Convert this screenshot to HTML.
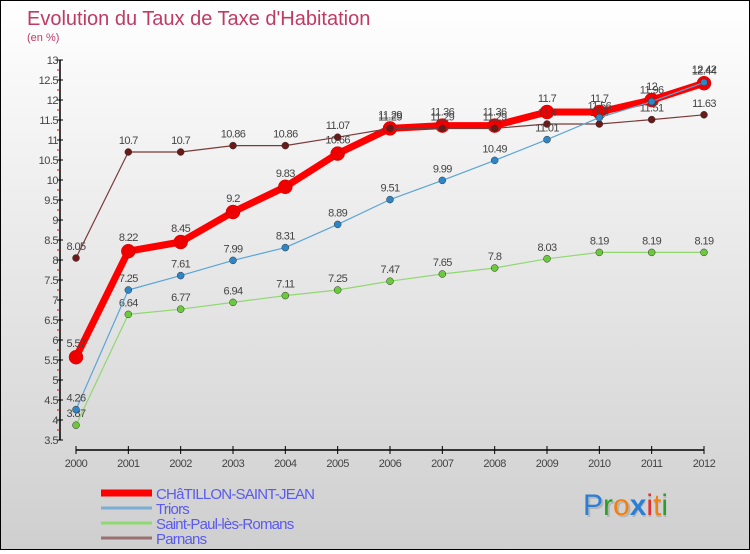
<!DOCTYPE html>
<html><head><meta charset="utf-8">
<style>
html,body{margin:0;padding:0;}
body{width:750px;height:550px;overflow:hidden;}
#wrap{position:relative;width:748px;height:548px;border:1px solid #000;background:linear-gradient(#ffffff,#e2e2e2 60%,#cfcfcf);font-family:"Liberation Sans",sans-serif;}
svg text{font-family:"Liberation Sans",sans-serif;}
</style></head><body>
<div id="wrap">
<svg id="chart" width="748" height="548">
<text x="26" y="24" font-size="20" fill="#c03a64">Evolution du Taux de Taxe d'Habitation</text>
<text x="26" y="40" font-size="11" fill="#c03a64">(en %)</text>
<g id="axes"></g>
<g id="series"></g>
<g id="legend"></g>
<text x="584" y="516" font-size="30" fill="#999" opacity="0.5">Proxiti</text>
<text x="582" y="514" font-size="30"><tspan fill="#2a7fd4">P</tspan><tspan fill="#2aa02a">r</tspan><tspan fill="#f08010">o</tspan><tspan fill="#2a7fd4" font-weight="bold">x</tspan><tspan fill="#e03030">i</tspan><tspan fill="#f08010">t</tspan><tspan fill="#2aa02a">i</tspan></text>
</svg>
</div>
<script>
const years=[2000,2001,2002,2003,2004,2005,2006,2007,2008,2009,2010,2011,2012];
const chatillon=[5.57,8.22,8.45,9.2,9.83,10.66,11.29,11.36,11.36,11.7,11.7,12,12.42];
const triors=[4.26,7.25,7.61,7.99,8.31,8.89,9.51,9.99,10.49,11.01,11.56,11.96,12.44];
const saintPaul=[3.87,6.64,6.77,6.94,7.11,7.25,7.47,7.65,7.8,8.03,8.19,8.19,8.19];
const parnans=[8.05,10.7,10.7,10.86,10.86,11.07,11.29,11.29,11.29,11.4,11.4,11.51,11.63];
const yTicks=[3.5,4,4.5,5,5.5,6,6.5,7,7.5,8,8.5,9,9.5,10,10.5,11,11.5,12,12.5,13];

const NS="http://www.w3.org/2000/svg";
const X0=75,X1=703,Y0=439,Y1=59,YMIN=3.5,YMAX=13;
function xs(i){return X0+(X1-X0)*i/(years.length-1);}
function ys(v){return Y0-(v-YMIN)/(YMAX-YMIN)*(Y0-Y1);}
function mk(tag,attrs,parent){const e=document.createElementNS(NS,tag);for(const k in attrs)e.setAttribute(k,attrs[k]);parent.appendChild(e);return e;}
const axes=document.getElementById('axes');
let l=mk('line',{x1:59,y1:Y1,x2:59,y2:Y0,stroke:'#000','stroke-width':1.5},axes);


yTicks.forEach(v=>{
  const y=ys(v);
  mk('line',{x1:56,y1:y,x2:62,y2:y,stroke:'#000'},axes);
  if(v<YMAX){mk('line',{x1:56,y1:ys(v+0.25),x2:59,y2:ys(v+0.25),stroke:'#e00'},axes);}
  const t=mk('text',{x:57,y:y+4,'font-size':11,fill:'#444','text-anchor':'end','letter-spacing':'-0.5'},axes);
  t.textContent=v;
  
  
});
l=mk('line',{x1:X0,y1:449,x2:X1,y2:449,stroke:'#000','stroke-width':1.5},axes);


years.forEach((yr,i)=>{
  const x=xs(i);
  mk('line',{x1:x,y1:445,x2:x,y2:453,stroke:'#000'},axes);
  const t=mk('text',{x:x,y:466,'font-size':11,fill:'#444','text-anchor':'middle','letter-spacing':'-0.5'},axes);
  t.textContent=yr;
  
  
});
const series=[
 {name:'parnans',data:parnans,color:'#7a3a3a',dot:'#6b1a1a',w:1.2,r:3.5},
 {name:'saint-paul',data:saintPaul,color:'#90d870',dot:'#6cc83c',w:1.2,r:3.5},
 {name:'triors',data:triors,color:'#5aa5d8',dot:'#2f86c6',w:1.2,r:3.5},
 {name:'chatillon',data:chatillon,color:'#ff0000',dot:'#ee0000',w:7,r:7}
];
const sg=document.getElementById('series');
const order=[3,0,1,2];
order.forEach(si=>{
  const s=series[si];
  const g=mk('g',{},sg);
  
  
  const pts=s.data.map((v,i)=>xs(i)+','+ys(v)).join(' ');
  const pl=mk('polyline',{points:pts,fill:'none',stroke:s.color,'stroke-width':s.w,'stroke-linejoin':'round'},g);
  
  
  s.data.forEach((v,i)=>{
    const c=mk('circle',{cx:xs(i),cy:ys(v),r:s.r,fill:s.dot,stroke:si==3?'#c00':'#333','stroke-width':0.5},g);
    
    
    const t=mk('text',{x:xs(i),y:ys(v)-(si==3?10:8),'font-size':11,fill:'#444','text-anchor':'middle','letter-spacing':'-0.6'},g);
    t.textContent=v;
    
    
  });
});
const lg=document.getElementById('legend');
const leg=[['CHâTILLON-SAINT-JEAN','#ff0000',7],['Triors','#7aaed6',3],['Saint-Paul-lès-Romans','#90d870',3],['Parnans','#9a7070',3]];
leg.forEach((e,i)=>{
  const y=492+i*15;
  const g=mk('g',{},lg);
  
  
  mk('line',{x1:100,y1:y,x2:151,y2:y,stroke:e[1],'stroke-width':e[2]},g);
  const t=mk('text',{x:155,y:y+6,'font-size':15,fill:'#5a5af0','letter-spacing':'-0.8'},g);
  t.textContent=e[0];
});
</script>
</body></html>
